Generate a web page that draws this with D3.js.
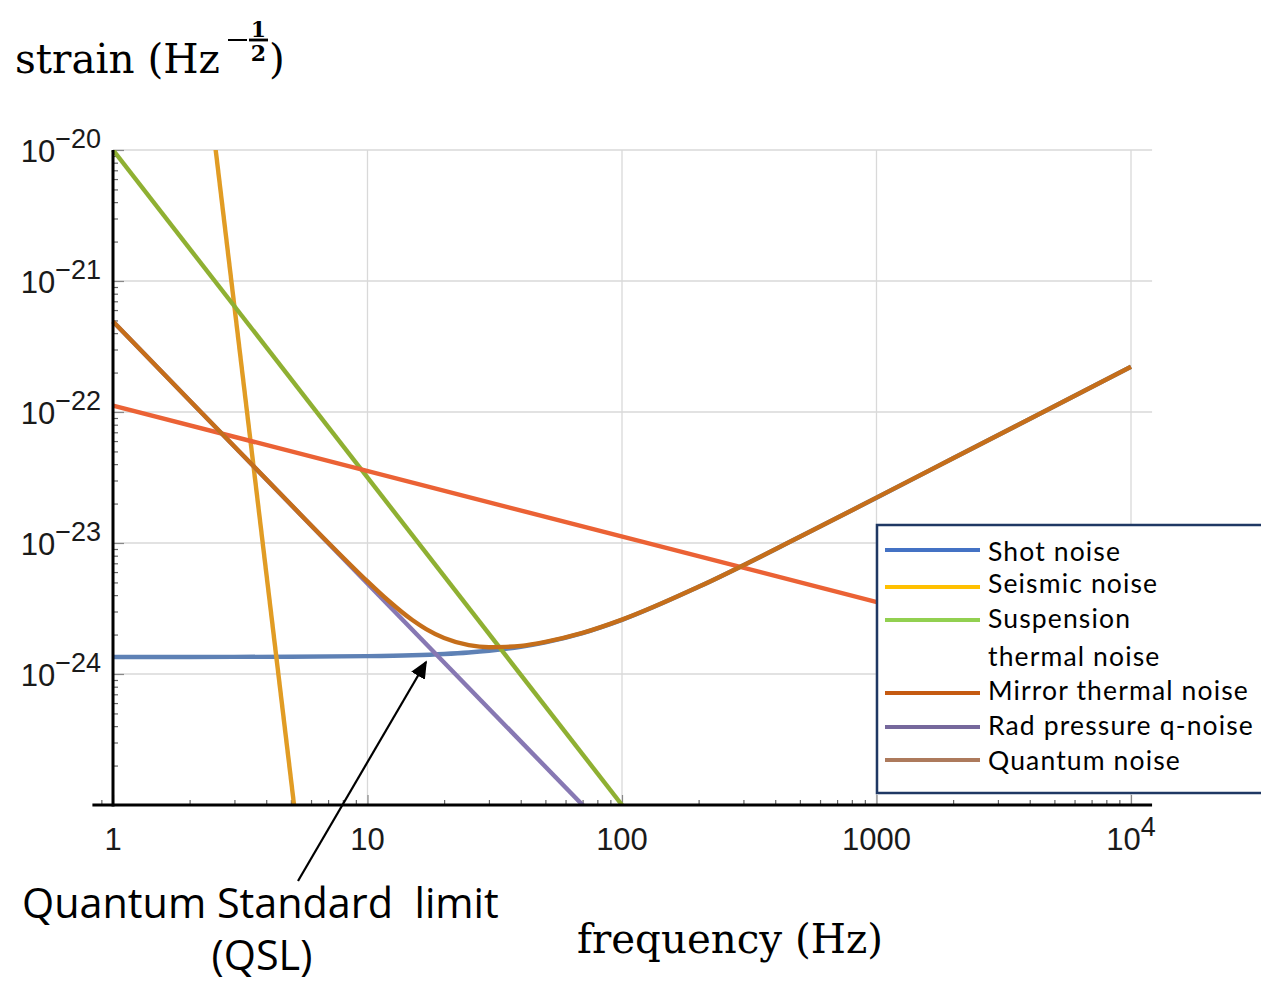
<!DOCTYPE html>
<html><head><meta charset="utf-8">
<script src="https://cdn.jsdelivr.net/npm/d3@7"></script>
<style>body{margin:0;background:#fff}svg{display:block}</style>
</head><body><svg id="c" width="1261" height="985"></svg>
<script>
// ---- data ----
const freqShot = [1,2,5,10,15,20,25,30,40,50,70,100,200,500,1000,2000,5000,10000];
const shotNoise = [1.35e-24,1.35e-24,1.355e-24,1.368e-24,1.39e-24,1.421e-24,1.459e-24,1.504e-24,1.614e-24,1.746e-24,2.055e-24,2.592e-24,4.628e-24,1.115e-23,2.217e-23,4.43e-23,1.107e-22,2.213e-22];
const freqSeismic = [2.5, 5.2];
const seismicNoise = [1.23e-20, 8.4e-26];
const freqSuspension = [1, 100];
const suspensionNoise = [1e-20, 1e-25];
const freqMirror = [1, 10000];
const mirrorNoise = [1.12e-22, 1.12e-24];
const freqRad = [1, 100];
const radNoise = [4.9e-22, 4.9e-26];
const freqQuantum = [1,2,3,5,7,10,12,15,17,20,25,30,35,40,50,70,100,200,500,1000,2000,5000,10000];
const quantumNoise = [4.9e-22,1.225e-22,5.45e-23,1.965e-23,1.009e-23,5.09e-24,3.67e-24,2.58e-24,2.2e-24,1.88e-24,1.66e-24,1.60e-24,1.61e-24,1.64e-24,1.76e-24,2.06e-24,2.6e-24,4.63e-24,1.115e-23,2.22e-23,4.43e-23,1.107e-22,2.213e-22];

const xTickValues = [1,10,100,1000,10000];
const xTickLabels = [["1",""],["10",""],["100",""],["1000",""],["10","4"]];
const yTickValues = [1e-20,1e-21,1e-22,1e-23,1e-24];
const yTickLabels = [["10","−20"],["10","−21"],["10","−22"],["10","−23"],["10","−24"]];

const legendNames = ["Shot noise","Seismic noise","Suspension","Mirror thermal noise","Rad pressure q-noise","Quantum noise"];
const legendColors = ["#4472C4","#FFC000","#92D050","#C55A11","#76689C","#AD7A5C"];

// ---- scales ----
const svg = d3.select("#c");
const x = d3.scaleLog().domain([1,1e4]).range([113,1131]);
const y = d3.scaleLog().domain([1e-25,1e-20]).range([805,150]);
const xAxisMin = 0.83, xAxisMax = 12100;

// gridlines
const grid = svg.append("g");
grid.selectAll("line.v").data(xTickValues.slice(1)).join("line")
  .attr("x1", d=>x(d)).attr("x2", d=>x(d)).attr("y1", y(1e-20)).attr("y2", y(1e-25))
  .attr("stroke","#d9d9d9").attr("stroke-width",1.3);
grid.selectAll("line.h").data(yTickValues).join("line")
  .attr("x1", x(1)).attr("x2", x(xAxisMax)).attr("y1", d=>y(d)).attr("y2", d=>y(d))
  .attr("stroke","#d9d9d9").attr("stroke-width",1.3);

// minor ticks
const minorX = [0.9];
for (let k=0;k<4;k++) for (let m=2;m<=9;m++) minorX.push(m*Math.pow(10,k));
const minorY = [];
for (let e=-25;e<-20;e++) for (let m=2;m<=9;m++) minorY.push(m*Math.pow(10,e));

const xMinorAxis = d3.axisBottom(x).tickValues(minorX).tickSize(-5).tickFormat("");
const xMajorAxis = d3.axisBottom(x).tickValues(xTickValues).tickSize(-10).tickFormat("");
const yMinorAxis = d3.axisLeft(y).tickValues(minorY).tickSize(-5).tickFormat("");
const yMajorAxis = d3.axisLeft(y).tickValues(yTickValues).tickSize(-11).tickFormat("");
function styleAxis(g, col){ g.select(".domain").remove(); g.selectAll(".tick line").attr("stroke",col).attr("stroke-width",1.2); }
svg.append("g").attr("transform",`translate(0,${y(1e-25)})`).call(xMinorAxis).call(g=>styleAxis(g,"#666"));
svg.append("g").attr("transform",`translate(0,${y(1e-25)})`).call(xMajorAxis).call(g=>styleAxis(g,"#888"));
svg.append("g").attr("transform",`translate(${x(1)},0)`).call(yMinorAxis).call(g=>styleAxis(g,"#666"));
svg.append("g").attr("transform",`translate(${x(1)},0)`).call(yMajorAxis).call(g=>styleAxis(g,"#888"));

// clip
svg.append("clipPath").attr("id","plotclip").append("rect")
  .attr("x", x(xAxisMin)).attr("y", y(1e-20)).attr("width", x(xAxisMax)-x(xAxisMin)).attr("height", y(1e-25)-y(1e-20));

const line = d3.line().x(d=>x(d[0])).y(d=>y(d[1])).curve(d3.curveMonotoneX);
const series = [
  {f:freqShot, v:shotNoise, c:"#5E81B5"},
  {f:freqSeismic, v:seismicNoise, c:"#E19C24"},
  {f:freqSuspension, v:suspensionNoise, c:"#8FB032"},
  {f:freqMirror, v:mirrorNoise, c:"#EB6235"},
  {f:freqRad, v:radNoise, c:"#8778B3"},
  {f:freqQuantum, v:quantumNoise, c:"#C56E1A"}
];
const plot = svg.append("g").attr("clip-path","url(#plotclip)");
series.forEach(s=>{
  plot.append("path").datum(s.f.map((f,i)=>[f,s.v[i]]))
    .attr("d", line).attr("fill","none").attr("stroke", s.c).attr("stroke-width",4.4).attr("stroke-linecap","butt");
});

// axis lines
svg.append("line").attr("x1", x(1)).attr("x2", x(1)).attr("y1", y(1e-20)).attr("y2", y(1e-25)+1.5)
  .attr("stroke","#000").attr("stroke-width",3);
svg.append("line").attr("x1", x(xAxisMin)).attr("x2", x(xAxisMax)).attr("y1", y(1e-25)).attr("y2", y(1e-25))
  .attr("stroke","#000").attr("stroke-width",3);

// tick labels
const tickFont = "Liberation Sans, Arial, sans-serif";
xTickValues.forEach((v,i)=>{
  const t = svg.append("text").attr("x", x(v)).attr("y", 850).attr("text-anchor","middle")
    .attr("font-family", tickFont).attr("font-size", 31).attr("fill","#1a1a1a");
  t.append("tspan").text(xTickLabels[i][0]);
  if (xTickLabels[i][1]) t.append("tspan").attr("dy",-14).attr("font-size",27).text(xTickLabels[i][1]);
});
yTickValues.forEach((v,i)=>{
  const t = svg.append("text").attr("x", 101).attr("y", y(v)+12).attr("text-anchor","end")
    .attr("font-family", tickFont).attr("font-size", 31).attr("fill","#1a1a1a");
  t.append("tspan").text(yTickLabels[i][0]);
  t.append("tspan").attr("dy",-14).attr("font-size",27).text(yTickLabels[i][1]);
});

// fit helper
function fit(sel, target){ const w = sel.node().getComputedTextLength(); const fs = +sel.attr("font-size"); sel.attr("font-size", fs*target/w); return fs*target/w; }

// y title
const serif = "DejaVu Serif, Liberation Serif, serif";
const st = svg.append("text").attr("x",15).attr("y",73).attr("font-family",serif).attr("font-size",36).attr("fill","#000").text("strain (Hz");
fit(st, 205);
svg.append("line").attr("x1",228).attr("x2",247).attr("y1",40).attr("y2",40).attr("stroke","#000").attr("stroke-width",2);
svg.append("line").attr("x1",249).attr("x2",268).attr("y1",40).attr("y2",40).attr("stroke","#000").attr("stroke-width",2.8);
svg.append("text").attr("x",258.5).attr("y",37).attr("text-anchor","middle").attr("font-family",serif).attr("font-weight","bold").attr("font-size",22).text("1");
svg.append("text").attr("x",258.5).attr("y",61).attr("text-anchor","middle").attr("font-family",serif).attr("font-weight","bold").attr("font-size",22).text("2");
svg.append("text").attr("x",269).attr("y",73).attr("font-family",serif).attr("font-size",+st.attr("font-size")).text(")");

// x title
const ft = svg.append("text").attr("x",577).attr("y",953).attr("font-family",serif).attr("font-size",38).attr("fill","#000").text("frequency (Hz)");
fit(ft, 306);

// QSL annotation
const sans = "Open Sans, Noto Sans, sans-serif";
const q1 = svg.append("text").attr("x",22).attr("y",918).attr("font-family",sans).attr("font-size",38).attr("fill","#000").text("Quantum Standard  limit").style("white-space","pre").attr("xml:space","preserve");
fit(q1, 477);
svg.append("text").attr("x",262).attr("y",970).attr("text-anchor","middle").attr("font-family",sans).attr("font-size",+q1.attr("font-size")).attr("fill","#000").text("(QSL)");
svg.append("defs").append("marker").attr("id","arr").attr("viewBox","0 0 10 10").attr("refX",9).attr("refY",5)
  .attr("markerWidth",8).attr("markerHeight",8).attr("markerUnits","strokeWidth").attr("orient","auto")
  .append("path").attr("d","M0,0.5 L10,5 L0,9.5 z").attr("fill","#000");
svg.append("line").attr("x1",298).attr("y1",881).attr("x2",426).attr("y2",662)
  .attr("stroke","#000").attr("stroke-width",2.2).attr("marker-end","url(#arr)");

// legend
const legFont = "Lato, Open Sans, sans-serif";
const lg = svg.append("g");
lg.append("rect").attr("x",877).attr("y",525).attr("width",400).attr("height",268)
  .attr("fill","#fff").attr("stroke","#1F3864").attr("stroke-width",2.5);
const lineYs = [550,587,620,693,727,760];
const textYs = [561,593,628,700,735,770];
const legendFs = 26.5;
let maxW = 0, maxN = 1;
legendNames.forEach(n=>{
  const p = lg.append("text").attr("font-family",legFont).attr("font-size",legendFs).text(n);
  const w = p.node().getComputedTextLength(); p.remove();
  if (w > maxW) { maxW = w; maxN = n.length; }
});
const legendLs = Math.max(0, (266 - maxW) / maxN);
legendNames.forEach((n,i)=>{
  lg.append("line").attr("x1",885).attr("x2",980).attr("y1",lineYs[i]).attr("y2",lineYs[i])
    .attr("stroke",legendColors[i]).attr("stroke-width",4);
  lg.append("text").attr("x",988).attr("y",textYs[i]).attr("font-family",legFont).attr("font-size",legendFs)
    .attr("letter-spacing",legendLs).attr("fill","#000").text(n);
});
lg.append("text").attr("x",988).attr("y",666).attr("font-family",legFont).attr("font-size",legendFs)
  .attr("letter-spacing",legendLs).attr("fill","#000").text("thermal noise");
</script></body></html>
